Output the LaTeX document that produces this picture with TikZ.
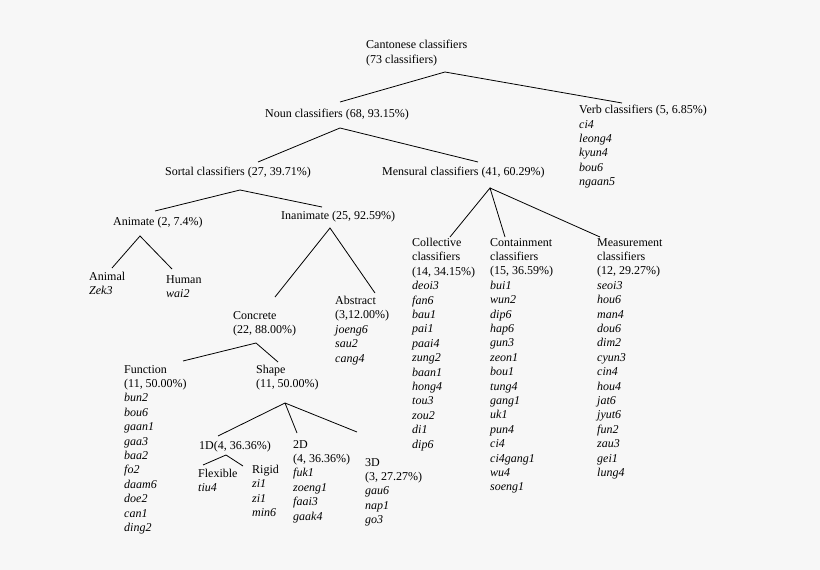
\documentclass[tikz,border=0pt]{standalone}
\usepackage{fontspec}
\setmainfont{Liberation Serif}
\begin{document}
\begin{tikzpicture}[x=1pt,y=-1pt,
  lab/.style={anchor=north west,inner sep=0pt,align=left,font=\fontsize{12}{14.4}\selectfont},
  br/.style={line width=0.8pt}]
\fill[black!3] (0,0) rectangle (820,570);
\useasboundingbox (0,0) rectangle (820,570);
\node[lab] (root) at (366,40) {Cantonese classifiers\\(73 classifiers)};
\node[lab] (noun) at (265,109) {Noun classifiers (68, 93.15\%)};
\node[lab] (verb) at (579,105) {Verb classifiers (5, 6.85\%)\\\itshape ci4\\\itshape leong4\\\itshape kyun4\\\itshape bou6\\\itshape ngaan5};
\node[lab] (sort) at (165,167) {Sortal classifiers (27, 39.71\%)};
\node[lab] (mens) at (382,167) {Mensural classifiers (41, 60.29\%)};
\node[lab] (anim) at (113,217) {Animate (2, 7.4\%)};
\node[lab] (inan) at (281,211) {Inanimate (25, 92.59\%)};
\node[lab] (animal) at (89,272) {Animal\\\itshape Zek3};
\node[lab] (human) at (166,275) {Human\\\itshape wai2};
\node[lab] (conc) at (233,311) {Concrete\\(22, 88.00\%)};
\node[lab] (abs) at (335,296) {Abstract\\(3,12.00\%)\\\itshape joeng6\\\itshape sau2\\\itshape cang4};
\node[lab] (coll) at (412,238) {Collective\\classifiers\\(14, 34.15\%)\\\itshape deoi3\\\itshape fan6\\\itshape bau1\\\itshape pai1\\\itshape paai4\\\itshape zung2\\\itshape baan1\\\itshape hong4\\\itshape tou3\\\itshape zou2\\\itshape di1\\\itshape dip6};
\node[lab] (cont) at (490,238) {Containment\\classifiers\\(15, 36.59\%)\\\itshape bui1\\\itshape wun2\\\itshape dip6\\\itshape hap6\\\itshape gun3\\\itshape zeon1\\\itshape bou1\\\itshape tung4\\\itshape gang1\\\itshape uk1\\\itshape pun4\\\itshape ci4\\\itshape ci4gang1\\\itshape wu4\\\itshape soeng1};
\node[lab] (meas) at (597,238) {Measurement\\classifiers\\(12, 29.27\%)\\\itshape seoi3\\\itshape hou6\\\itshape man4\\\itshape dou6\\\itshape dim2\\\itshape cyun3\\\itshape cin4\\\itshape hou4\\\itshape jat6\\\itshape jyut6\\\itshape fun2\\\itshape zau3\\\itshape gei1\\\itshape lung4};
\node[lab] (func) at (124,365) {Function\\(11, 50.00\%)\\\itshape bun2\\\itshape bou6\\\itshape gaan1\\\itshape gaa3\\\itshape baa2\\\itshape fo2\\\itshape daam6\\\itshape doe2\\\itshape can1\\\itshape ding2};
\node[lab] (shape) at (256,365) {Shape\\(11, 50.00\%)};
\node[lab] (oned) at (199,441) {1D(4, 36.36\%)};
\node[lab] (flex) at (198,469) {Flexible\\\itshape tiu4};
\node[lab] (rigid) at (252,465) {Rigid\\\itshape zi1\\\itshape zi1\\\itshape min6};
\node[lab] (twod) at (293,440) {2D\\(4, 36.36\%)\\\itshape fuk1\\\itshape zoeng1\\\itshape faai3\\\itshape gaak4};
\node[lab] (threed) at (365,458) {3D\\(3, 27.27\%)\\\itshape gau6\\\itshape nap1\\\itshape go3};
\coordinate (a1) at (445,72); \coordinate (b1) at (340,102); \coordinate (b2) at (622,103);
\coordinate (a2) at (340,128); \coordinate (c1) at (258,162); \coordinate (c2) at (478,162);
\coordinate (a3) at (240,190); \coordinate (d1) at (155,211); \coordinate (d2) at (322,207);
\coordinate (a4) at (140,236); \coordinate (e1) at (112,268); \coordinate (e2) at (172,269);
\coordinate (a5) at (330,228); \coordinate (f1) at (275,297); \coordinate (f2) at (375,293);
\coordinate (a6) at (490,188); \coordinate (g1) at (450,237); \coordinate (g2) at (505,237); \coordinate (g3) at (600,237);
\coordinate (a7) at (256,343); \coordinate (h1) at (183,361); \coordinate (h2) at (278,362);
\coordinate (a8) at (285,403); \coordinate (i1) at (218,436); \coordinate (i2) at (297,433); \coordinate (i3) at (357,432);
\coordinate (a9) at (226,455); \coordinate (j1) at (203,465); \coordinate (j2) at (243,466);
\draw[br] (b1) -- (a1) -- (b2);
\draw[br] (c1) -- (a2) -- (c2);
\draw[br] (d1) -- (a3) -- (d2);
\draw[br] (e1) -- (a4) -- (e2);
\draw[br] (f1) -- (a5) -- (f2);
\draw[br] (g1) -- (a6) -- (g2) (a6) -- (g3);
\draw[br] (h1) -- (a7) -- (h2);
\draw[br] (i1) -- (a8) -- (i2) (a8) -- (i3);
\draw[br] (j1) -- (a9) -- (j2);
\end{tikzpicture}
\end{document}
